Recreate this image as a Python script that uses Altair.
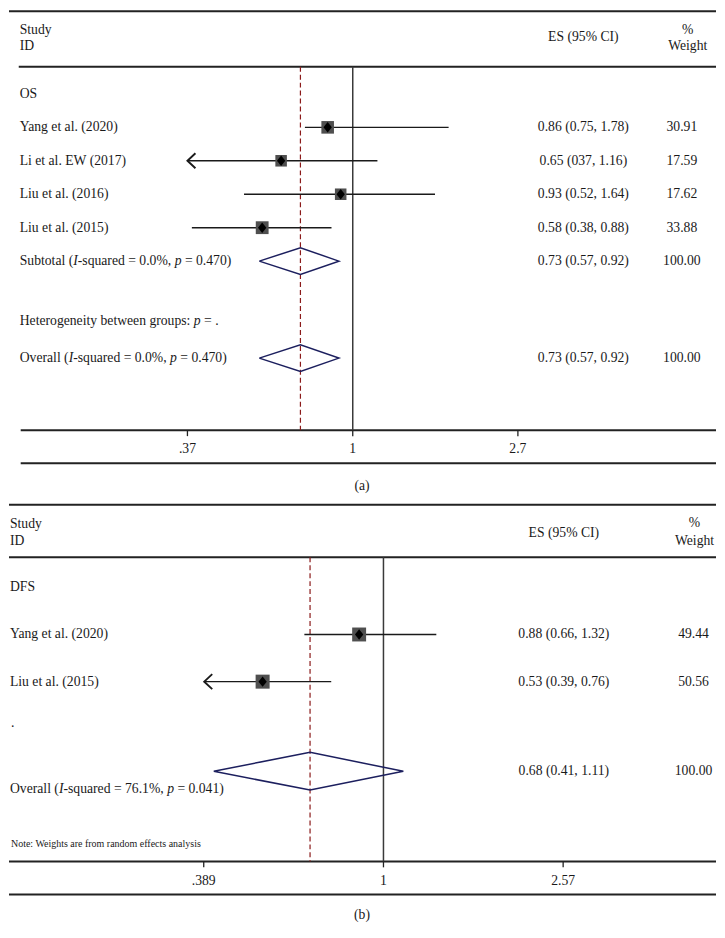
import math
import altair as alt
import pandas as pd

# ---------------- data ----------------
# Panel (a): OS
a_group = "OS"
a_studies = ["Yang et al. (2020)", "Li et al. EW (2017)", "Liu et al. (2016)", "Liu et al. (2015)"]
a_es = [0.86, 0.65, 0.93, 0.58]
a_lo = [0.75, 0.37, 0.52, 0.38]
a_hi = [1.78, 1.16, 1.64, 0.88]
a_es_labels = ["0.86 (0.75, 1.78)", "0.65 (037, 1.16)", "0.93 (0.52, 1.64)", "0.58 (0.38, 0.88)"]
a_weights = [30.91, 17.59, 17.62, 33.88]
a_arrow_left = [False, True, False, False]
a_pooled_es = [0.73, 0.73]
a_pooled_lo = [0.57, 0.57]
a_pooled_hi = [0.92, 0.92]
a_pooled_labels = ["0.73 (0.57, 0.92)", "0.73 (0.57, 0.92)"]
a_pooled_weights = ["100.00", "100.00"]
a_ref_line = 0.73
a_ticks = [0.37, 1.0, 2.7]
a_tick_labels = [".37", "1", "2.7"]

# Panel (b): DFS
b_group = "DFS"
b_studies = ["Yang et al. (2020)", "Liu et al. (2015)"]
b_es = [0.88, 0.53]
b_lo = [0.66, 0.39]
b_hi = [1.32, 0.76]
b_es_labels = ["0.88 (0.66, 1.32)", "0.53 (0.39, 0.76)"]
b_weights = [49.44, 50.56]
b_arrow_left = [False, True]
b_pooled_es = [0.68]
b_pooled_lo = [0.41]
b_pooled_hi = [1.11]
b_pooled_labels = ["0.68 (0.41, 1.11)"]
b_pooled_weights = ["100.00"]
b_ref_line = 0.68
b_ticks = [0.389, 1.0, 2.57]
b_tick_labels = [".389", "1", "2.57"]

# ---------------- layout / style ----------------
W = 709
KX = W / 725.0
KY = 0.975
FONT = "Liberation Serif"
FS = 13.7
TXT = "#1a1a1a"
LINE = "#1a1a1a"
NAVY = "#1c1f5e"
DRED = "#8b1a1a"
SQ = "#4f4f4f"

TIMES = {" ": 250, "(": 333, ")": 333, "-": 333, "=": 564, ".": 250, ",": 250, "%": 833,
         ":": 278, "S": 556, "O": 722, "H": 722, "I": 333, "u": 500, "b": 500, "t": 278,
         "o": 500, "a": 444, "l": 278, "s": 389, "q": 500, "r": 333, "e": 444, "d": 500,
         "p": 500, "v": 500, "n": 500, "g": 500, "y": 500, "w": 722, "i": 278, "h": 500,
         "c": 444, "m": 778, "f": 333}


def text_w(s, size=FS):
    return sum(TIMES.get(c, 500) for c in s) / 1000.0 * size


def X(ref):
    return ref * KX


def panel(P):
    top, bot = P["ref_top"], P["ref_bot"]
    H = (bot - top) * KY

    def py(ref):
        return (ref - top) * KY

    r0, pitch = P["row0"], P["pitch"]
    ys = alt.Scale(domain=[(top - r0) / pitch, (bot - r0) / pitch], reverse=True, nice=False, zero=False)
    x1, ppl = P["x1"], P["ppl"]
    xs = alt.Scale(type="log", domain=[math.exp(-x1 / ppl), math.exp((725 - x1) / ppl)], nice=False)

    base = alt.Chart(pd.DataFrame({"k": [0]}))
    layers = []

    def ftext(txt, rx, ry, align="left", size=FS, italic=False):
        return base.mark_text(text=txt, align=align, baseline="middle", font=FONT, fontSize=size,
                              fontStyle="italic" if italic else "normal", color=TXT).encode(
            x=alt.value(X(rx)), y=alt.value(py(ry)))

    def rtext_px(txt, xpx, row, italic=False):
        return alt.Chart(pd.DataFrame({"row": [row]})).mark_text(
            text=txt, align="left", baseline="middle", font=FONT, fontSize=FS,
            fontStyle="italic" if italic else "normal", color=TXT).encode(
            x=alt.value(xpx), y=alt.Y("row:Q", scale=ys, axis=None))

    # horizontal rules
    for (ry, rx0, rx1, sw) in P["hrules"]:
        layers.append(base.mark_rule(color="#222222", strokeWidth=sw).encode(
            y=alt.value(py(ry)), x=alt.value(X(rx0)), x2=alt.value(X(rx1))))

    # headers
    hx = P["head_x"]
    layers.append(ftext("Study", hx, P["study_y"]))
    layers.append(ftext("ID", hx, P["id_y"]))
    layers.append(ftext("ES (95% CI)", P["es_head_x"], P["es_head_y"], align="center"))
    layers.append(ftext("%", P["wt_head_x"], P["pct_y"], align="center"))
    layers.append(ftext("Weight", P["wt_head_x"], P["weight_y"], align="center"))

    # vertical lines (null line and pooled estimate)
    layers.append(alt.Chart(pd.DataFrame({"v": [1.0]})).mark_rule(color="#3a3a3a", strokeWidth=1.5).encode(
        x=alt.X("v:Q", scale=xs, axis=None), y=alt.value(py(P["v_top"])), y2=alt.value(py(P["v_bot"]))))
    layers.append(alt.Chart(pd.DataFrame({"v": [P["ref_line"]]})).mark_rule(
        color=DRED, strokeWidth=1.2, strokeDash=[5, 3]).encode(
        x=alt.X("v:Q", scale=xs, axis=None), y=alt.value(py(P["v_top"])), y2=alt.value(py(P["v_bot"]))))

    # studies
    df = pd.DataFrame({
        "study": P["studies"], "es": P["es"], "lo": P["lo"], "hi": P["hi"],
        "lab": P["es_labels"], "w": P["weights"], "wl": [f"{w:.2f}" for w in P["weights"]],
        "row": P["study_rows"], "arrow": P["arrow"]})
    sc = alt.Chart(df)
    layers.append(sc.mark_rule(color=LINE, strokeWidth=1.4).encode(
        x=alt.X("lo:Q", scale=xs, axis=None), x2="hi:Q", y=alt.Y("row:Q", scale=ys, axis=None)))
    layers.append(sc.transform_filter("datum.arrow").mark_point(
        shape="M1.07,-1L0,0L1.07,1", filled=False, strokeWidth=1.9, color=LINE, size=225, opacity=1).encode(
        x=alt.X("lo:Q", scale=xs, axis=None), y=alt.Y("row:Q", scale=ys, axis=None)))
    layers.append(sc.mark_square(color=SQ, opacity=1).encode(
        x=alt.X("es:Q", scale=xs, axis=None), y=alt.Y("row:Q", scale=ys, axis=None),
        size=alt.Size("w:Q", scale=alt.Scale(domain=[0, P["wmax"]], range=[100, 200]), legend=None)))
    layers.append(sc.mark_point(shape="M-0.8,0L0,-1L0.8,0L0,1Z", filled=True, color="black", size=110, opacity=1).encode(
        x=alt.X("es:Q", scale=xs, axis=None), y=alt.Y("row:Q", scale=ys, axis=None)))
    layers.append(sc.mark_text(align="left", baseline="middle", font=FONT, fontSize=FS, color=TXT).encode(
        x=alt.value(X(P["label_x"])), y=alt.Y("row:Q", scale=ys, axis=None), text="study:N"))
    layers.append(sc.mark_text(align="center", baseline="middle", font=FONT, fontSize=FS, color=TXT).encode(
        x=alt.value(X(P["es_x"])), y=alt.Y("row:Q", scale=ys, axis=None), text="lab:N"))
    layers.append(sc.mark_text(align="center", baseline="middle", font=FONT, fontSize=FS, color=TXT).encode(
        x=alt.value(X(P["wt_x"])), y=alt.Y("row:Q", scale=ys, axis=None), text="wl:N"))

    # group label
    layers.append(rtext_px(P["group"], X(P["label_x"]), 0))

    # pooled diamonds
    pts = []
    for i, (e, l, h, r) in enumerate(zip(P["p_es"], P["p_lo"], P["p_hi"], P["p_rows"])):
        for o, (xv, yv) in enumerate([(l, r), (e, r - 0.4), (h, r), (e, r + 0.4), (l, r)]):
            pts.append({"id": i, "o": o, "x": xv, "y": yv})
    layers.append(alt.Chart(pd.DataFrame(pts)).mark_line(color=NAVY, strokeWidth=1.5).encode(
        x=alt.X("x:Q", scale=xs, axis=None), y=alt.Y("y:Q", scale=ys, axis=None),
        order="o:Q", detail="id:N"))
    pdf = pd.DataFrame({"row": P["p_rows"], "lab": P["p_labels"], "wl": P["p_weights"]})
    layers.append(alt.Chart(pdf).mark_text(align="center", baseline="middle", font=FONT, fontSize=FS, color=TXT).encode(
        x=alt.value(X(P["es_x"])), y=alt.Y("row:Q", scale=ys, axis=None), text="lab:N"))
    layers.append(alt.Chart(pdf).mark_text(align="center", baseline="middle", font=FONT, fontSize=FS, color=TXT).encode(
        x=alt.value(X(P["wt_x"])), y=alt.Y("row:Q", scale=ys, axis=None), text="wl:N"))

    # mixed-style labels (italic I and p); leading spaces are turned into offsets
    for segs, row in P["seg_labels"]:
        off = X(P["label_x"])
        for s, it in segs:
            stripped = s.lstrip(" ")
            off += text_w(s[:len(s) - len(stripped)])
            layers.append(rtext_px(stripped, off, row, italic=it))
            off += text_w(stripped)

    for (txt, rx, ry, size) in P["extra_texts"]:
        layers.append(ftext(txt, rx, ry, size=size))

    # axis ticks and labels
    tdf = pd.DataFrame({"t": P["ticks"], "lab": P["tick_labels"]})
    layers.append(alt.Chart(tdf).mark_rule(color="#222222", strokeWidth=1.3).encode(
        x=alt.X("t:Q", scale=xs, axis=None), y=alt.value(py(P["axis_y"])), y2=alt.value(py(P["axis_y"] + 6))))
    layers.append(alt.Chart(tdf).mark_text(align="center", baseline="middle", font=FONT, fontSize=FS, color=TXT).encode(
        x=alt.X("t:Q", scale=xs, axis=None), y=alt.value(py(P["tick_lab_y"])), text="lab:N"))

    # caption
    layers.append(ftext(P["caption"], 362, P["caption_y"], align="center"))

    return alt.layer(*layers).properties(width=W, height=H)


PA = dict(
    ref_top=0, ref_bot=500, row0=86, pitch=34.4, x1=352.5, ppl=170.5,
    hrules=[(1, 0, 725, 2), (58, 10, 725, 2), (432, 12, 725, 2), (466, 12, 725, 2)],
    head_x=11, study_y=20, id_y=37, es_head_x=589, es_head_y=28, wt_head_x=696, pct_y=20, weight_y=37,
    v_top=58, v_bot=432, ref_line=a_ref_line,
    studies=a_studies, es=a_es, lo=a_lo, hi=a_hi, es_labels=a_es_labels, weights=a_weights,
    study_rows=[1, 2, 3, 4], arrow=a_arrow_left, wmax=35,
    label_x=11, es_x=589, wt_x=690, group=a_group,
    p_es=a_pooled_es, p_lo=a_pooled_lo, p_hi=a_pooled_hi, p_rows=[5, 7.9],
    p_labels=a_pooled_labels, p_weights=a_pooled_weights,
    seg_labels=[
        ([("Subtotal (", False), ("I", True), ("-squared = 0.0%, ", False), ("p", True), (" = 0.470)", False)], 5),
        ([("Heterogeneity between groups: ", False), ("p", True), (" = .", False)], 6.8),
        ([("Overall (", False), ("I", True), ("-squared = 0.0%, ", False), ("p", True), (" = 0.470)", False)], 7.9),
    ],
    extra_texts=[],
    ticks=a_ticks, tick_labels=a_tick_labels, axis_y=432, tick_lab_y=451,
    caption="(a)", caption_y=489,
)

PB = dict(
    ref_top=500, ref_bot=938, row0=593, pitch=48.5, x1=384, ppl=195.2,
    hrules=[(508, 0, 725, 2), (562, 0, 725, 2), (875, 0, 725, 2), (909, 0, 725, 2)],
    head_x=1, study_y=528, id_y=545, es_head_x=569, es_head_y=537, wt_head_x=703, pct_y=527, weight_y=545,
    v_top=562, v_bot=875, ref_line=b_ref_line,
    studies=b_studies, es=b_es, lo=b_lo, hi=b_hi, es_labels=b_es_labels, weights=b_weights,
    study_rows=[1, 2], arrow=b_arrow_left, wmax=52,
    label_x=1, es_x=569, wt_x=702, group=b_group,
    p_es=b_pooled_es, p_lo=b_pooled_lo, p_hi=b_pooled_hi, p_rows=[3.9],
    p_labels=b_pooled_labels, p_weights=b_pooled_weights,
    seg_labels=[
        ([("Overall (", False), ("I", True), ("-squared = 76.1%, ", False), ("p", True), (" = 0.041)", False)], 4.27),
    ],
    extra_texts=[(".", 2, 733, FS), ("Note: Weights are from random effects analysis", 2, 857, 10)],
    ticks=b_ticks, tick_labels=b_tick_labels, axis_y=875, tick_lab_y=895,
    caption="(b)", caption_y=930,
)

chart = alt.vconcat(panel(PA), panel(PB), spacing=0, bounds="flush").properties(
    padding={"left": 0, "right": 0, "top": 0, "bottom": 0}
).configure_view(stroke=None)

chart.save("out.html", embed_options={"renderer": "svg", "actions": False})
